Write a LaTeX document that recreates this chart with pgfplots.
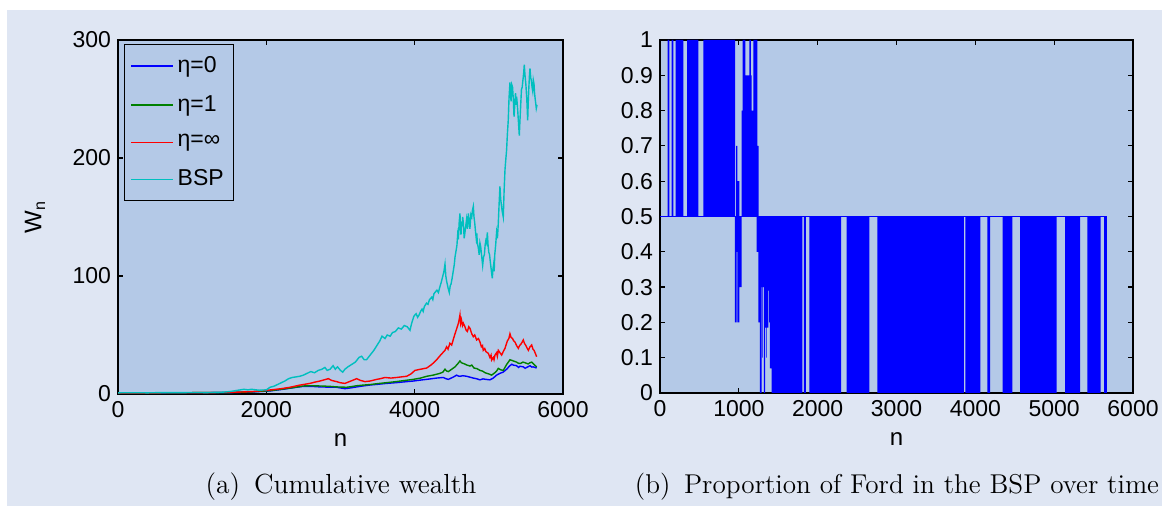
\documentclass[border=0pt]{standalone}
\usepackage{pgfplots}
\pgfplotsset{compat=1.18}
\usepackage{fontspec}
\newfontfamily\arial{Liberation Sans}
\definecolor{outerbg}{RGB}{223,230,243}
\definecolor{axisbg}{RGB}{180,201,231}
\definecolor{mgreen}{RGB}{0,128,0}
\definecolor{mcyan}{RGB}{0,191,191}
\begin{document}
\begin{tikzpicture}
\path[use as bounding box] (0pt,0pt) rectangle (581pt,254pt);
\fill[white] (0pt,0pt) rectangle (581pt,254pt);
\fill[outerbg] (3.5pt,1pt) rectangle (581pt,249pt);
\pgfplotsset{
  mystyle/.style={
    scale only axis,
    axis background/.style={fill=axisbg},
    axis line style={black, line width=0.7pt},
    tick align=inside,
    major tick length=2.5pt,
    every tick/.style={black, line width=0.6pt},
    tick label style={font=\arial\fontsize{11.5}{13}\selectfont},
    label style={font=\arial\fontsize{12}{14}\selectfont},
    /pgf/number format/assume math mode=true,
    /pgf/number format/set thousands separator={},
    xmin=0, xmax=6000,
    x label style={at={(axis description cs:0.5,0)}, anchor=center, yshift=-23pt},
  }
}
% ---------- left axis ----------
\begin{axis}[mystyle,
  at={(59pt,57pt)}, anchor=south west,
  width=222.5pt, height=177pt,
  ymin=0, ymax=300, ytick={0,100,200,300},
  xtick={0,2000,4000,6000},
  xlabel={n},
  ylabel={W\textsubscript{n}},
  y label style={at={(axis description cs:-0.1865,0.5)}, anchor=center},
  legend style={at={(0.0135,0.989)}, anchor=north west, fill=axisbg, draw=black, line width=0.6pt,
    font=\arial\fontsize{11.5}{13}\selectfont, row sep=6pt, inner xsep=3pt, inner ysep=4pt},
  legend cell align=left,
  legend image code/.code={\draw[#1, line width=0.55pt] (0pt,0pt) -- (21pt,0pt);},
]
\addplot[blue, line width=0.7pt] coordinates {
(0,1) (500,1) (1000,1.05) (1500,1.15) (1800,1.7) (2049,2.6) (2200,3.8) (2350,5.2) (2500,6.5) (2600,6.5) (2724,6) (2850,5.8) (2948,5.7) (3060,4.5) (3140,5.2) (3218,6) (3300,6.8) (3398,7.6) (3500,8.2) (3623,9) (3750,9.6) (3847,10.2) (3982,11) (4080,11.8) (4162,12.4) (4296,13.5) (4386,14) (4420,13) (4454,12.4) (4510,14) (4540,15) (4566,16) (4590,15.2) (4611,15) (4650,15.5) (4701,15) (4750,14.2) (4791,13.5) (4830,13) (4881,12) (4920,12.8) (4950,12.5) (4985,12.2) (5015,12) (5060,13.5) (5105,16) (5150,17.5) (5195,18.6) (5240,21) (5285,24) (5310,25.2) (5330,24.5) (5375,24) (5400,22.5) (5420,23.5) (5465,23) (5490,21.8) (5510,22.5) (5555,24) (5580,22.8) (5600,23) (5645,22)
};
\addlegendentry{η=0}
\addplot[mgreen, line width=0.7pt] coordinates {
(0,1) (500,1) (1000,1.1) (1500,1.2) (1800,1.8) (2049,2.8) (2200,4) (2350,5.3) (2500,6.8) (2600,7) (2724,6.8) (2850,6.5) (2948,6) (3083,5.7) (3150,6.3) (3218,7) (3300,7.5) (3398,8) (3500,8.8) (3623,9.6) (3750,10.5) (3847,11.3) (3982,12.4) (4080,13.5) (4162,15) (4250,16) (4341,17.5) (4380,18.5) (4409,21) (4430,19.5) (4454,19) (4500,21) (4544,23) (4580,25.5) (4611,28) (4630,26.5) (4650,26) (4680,25.3) (4701,24.6) (4746,23.7) (4770,24.5) (4800,22) (4840,21.5) (4881,20) (4915,19.4) (4950,18) (5000,17) (5038,16) (5080,18) (5105,19.5) (5128,21.7) (5160,20.5) (5195,20) (5240,25) (5285,29) (5310,28.5) (5330,28) (5375,27) (5400,26) (5430,26) (5460,27) (5488,26.5) (5530,25.5) (5555,26.5) (5578,27) (5610,25) (5645,23)
};
\addlegendentry{η=1}
\addplot[red, line width=0.7pt] coordinates {
(0,1) (500,1) (1000,1.1) (1500,1.3) (1800,2) (2049,3.4) (2200,4.5) (2319,5.7) (2450,7.5) (2589,9) (2650,10) (2724,11) (2780,12) (2836,13) (2880,11.5) (2948,10.5) (3000,9.5) (3060,9) (3120,10.5) (3180,12) (3218,13) (3270,11.5) (3330,10.5) (3400,11) (3488,12.4) (3540,13) (3600,14) (3680,13.5) (3757,14) (3820,14.5) (3892,15) (3950,17) (4004,20) (4080,21) (4162,22) (4230,25) (4296,29) (4350,33) (4409,37) (4430,40) (4450,38) (4475,43) (4499,41.5) (4520,46) (4544,51) (4570,56) (4590,60) (4600,63) (4611,67) (4620,60) (4630,63) (4645,58) (4656,60) (4678,57) (4695,54) (4710,53) (4730,57) (4746,55.6) (4770,51) (4791,48.6) (4810,50) (4836,45.8) (4860,47) (4881,44) (4900,40) (4915,41) (4925,37) (4945,38.5) (4960,36) (4980,35) (4993,34.5) (5015,31) (5030,33) (5038,28.8) (5060,31) (5070,29) (5083,33) (5105,35) (5115,32) (5128,37) (5150,35) (5173,33) (5195,36) (5218,38.7) (5250,45) (5270,47) (5285,51) (5300,48) (5320,47) (5335,45) (5353,44) (5375,41) (5398,38.7) (5415,41) (5430,42) (5450,44) (5465,45.8) (5480,43) (5500,41) (5515,39) (5533,37) (5555,40) (5578,41.5) (5595,38) (5610,37) (5630,34) (5645,31.6)
};
\addlegendentry{η=∞}
\addplot[mcyan, line width=0.7pt] coordinates {
(0,1) (200,1.1) (400,1.0) (600,1.2) (800,1.1) (1000,1.3) (1200,1.2) (1400,1.5) (1500,2) (1600,3) (1700,4) (1750,3.5) (1800,4) (1900,3.2) (2000,3.5) (2050,5.7) (2100,6.5) (2150,8) (2200,9.5) (2250,11) (2300,13) (2350,14) (2400,14.5) (2450,15) (2500,16) (2550,17.5) (2600,19) (2650,18) (2700,20) (2750,21) (2790,22.5) (2820,20) (2860,21) (2900,24) (2930,21) (2960,23) (3000,20) (3030,18.5) (3060,21) (3100,23) (3150,25) (3200,27) (3250,31) (3285,32) (3320,29) (3350,29) (3400,33) (3450,37) (3490,41) (3530,45) (3560,49) (3600,47) (3630,50) (3670,49) (3700,52) (3740,53) (3780,56) (3820,55) (3860,58) (3900,57) (3937,54) (3960,60) (3990,66) (4020,68) (4040,65) (4060,67) (4080,70) (4100,72) (4115,70) (4130,74) (4160,77) (4180,76) (4200,80) (4230,82) (4245,80) (4260,85) (4300,88) (4320,86) (4341,91) (4360,95) (4380,100) (4395,104) (4409,110) (4420,100) (4430,96) (4450,90) (4467,86) (4480,92) (4490,93) (4505,98) (4520,104) (4535,110) (4544,116) (4560,122) (4570,126) (4580,135) (4589,131) (4600,145) (4611,153) (4618,140) (4625,135) (4632,146) (4640,142) (4648,150) (4656,145) (4668,132) (4680,138) (4690,143) (4700,148) (4712,140) (4724,153) (4735,146) (4745,140) (4758,152) (4770,150) (4780,156) (4791,159) (4800,150) (4810,145) (4820,138) (4830,132) (4838,136) (4845,128) (4858,124) (4870,118) (4880,128) (4890,125) (4905,116) (4917,109) (4928,116) (4940,118) (4950,126) (4960,130) (4970,128) (4980,137) (4990,126) (5000,120) (5010,118) (5020,112) (5035,104) (5047,98) (5056,106) (5065,110) (5072,104) (5080,118) (5092,126) (5105,137) (5116,132) (5128,145) (5138,160) (5150,176) (5160,165) (5170,160) (5180,155) (5195,150) (5206,172) (5218,190) (5228,198) (5240,207) (5250,220) (5262,232) (5272,250) (5285,264) (5292,255) (5300,248) (5310,262) (5320,260) (5330,250) (5340,235) (5350,245) (5360,255) (5368,245) (5375,252) (5383,246) (5390,240) (5400,230) (5411,219) (5420,232) (5430,245) (5440,258) (5450,260) (5460,266) (5470,272) (5478,279) (5488,270) (5500,262) (5512,250) (5524,232) (5532,248) (5540,260) (5548,270) (5555,276) (5565,268) (5575,265) (5583,260) (5591,257) (5600,266) (5609,263) (5617,255) (5625,250) (5633,246) (5640,242) (5650,245)
};
\addlegendentry{BSP}
\end{axis}
% ---------- right axis ----------
\begin{axis}[mystyle,
  at={(330pt,57.5pt)}, anchor=south west,
  width=236.5pt, height=176.5pt,
  ymin=0, ymax=1, ytick={0,0.1,...,1},
  xtick={0,1000,2000,3000,4000,5000,6000},
  xlabel={n},
  unbounded coords=jump,
]
\addplot[fill=blue, draw=none] table[row sep=\\] {
x y \\
97 0.5 \\ 97 1 \\ 118 1 \\ 118 0.5 \\ nan nan \\
148 0.5 \\ 148 1 \\ 169 1 \\ 169 0.5 \\ nan nan \\
199 0.5 \\ 199 1 \\ 296 1 \\ 296 0.5 \\ nan nan \\
343 0.5 \\ 343 1 \\ 486 1 \\ 486 0.5 \\ nan nan \\
550 0.5 \\ 550 1 \\ 952 1 \\ 952 0.5 \\ nan nan \\
964 0.5 \\ 964 0.7 \\ 981 0.7 \\ 981 0.5 \\ nan nan \\
981 0.5 \\ 981 0.6 \\ 1006 0.6 \\ 1006 0.5 \\ nan nan \\
1036 0.5 \\ 1036 0.8 \\ 1049 0.8 \\ 1049 0.5 \\ nan nan \\
1049 0.5 \\ 1049 1 \\ 1082 1 \\ 1082 0.5 \\ nan nan \\
1086 0.5 \\ 1086 0.9 \\ 1133 0.9 \\ 1133 0.5 \\ nan nan \\
1133 0.5 \\ 1133 1 \\ 1154 1 \\ 1154 0.5 \\ nan nan \\
1154 0.5 \\ 1154 0.9 \\ 1163 0.9 \\ 1163 0.5 \\ nan nan \\
1163 0.5 \\ 1163 0.8 \\ 1184 0.8 \\ 1184 0.5 \\ nan nan \\
1184 0.5 \\ 1184 1 \\ 1234 1 \\ 1234 0.5 \\ nan nan \\
1234 0.5 \\ 1234 0.7 \\ 1252 0.7 \\ 1252 0.5 \\ nan nan \\
951 0.5 \\ 951 0.2 \\ 973 0.2 \\ 973 0.5 \\ nan nan \\
973 0.5 \\ 973 0.4 \\ 981 0.4 \\ 981 0.5 \\ nan nan \\
981 0.5 \\ 981 0.2 \\ 1006 0.2 \\ 1006 0.5 \\ nan nan \\
1006 0.5 \\ 1006 0.3 \\ 1036 0.3 \\ 1036 0.5 \\ nan nan \\
1226 0.5 \\ 1226 0.4 \\ 1247 0.4 \\ 1247 0.5 \\ nan nan \\
1247 0.5 \\ 1247 0.2 \\ 1268 0.2 \\ 1268 0.5 \\ nan nan \\
1268 0.5 \\ 1268 0 \\ 1290 0 \\ 1290 0.5 \\ nan nan \\
1290 0.5 \\ 1290 0.3 \\ 1319 0.3 \\ 1319 0.5 \\ nan nan \\
1300 0.5 \\ 1300 0.1 \\ 1306 0.1 \\ 1306 0.5 \\ nan nan \\
1319 0.5 \\ 1319 0 \\ 1332 0 \\ 1332 0.5 \\ nan nan \\
1332 0.5 \\ 1332 0.185 \\ 1374 0.185 \\ 1374 0.5 \\ nan nan \\
1345 0.5 \\ 1345 0.1 \\ 1352 0.1 \\ 1352 0.5 \\ nan nan \\
1374 0.5 \\ 1374 0.29 \\ 1395 0.29 \\ 1395 0.5 \\ nan nan \\
1385 0.5 \\ 1385 0.2 \\ 1392 0.2 \\ 1392 0.5 \\ nan nan \\
1395 0.5 \\ 1395 0.07 \\ 1416 0.07 \\ 1416 0.5 \\ nan nan \\
1416 0.5 \\ 1416 0 \\ 1805 0 \\ 1805 0.5 \\ nan nan \\
1826 0.5 \\ 1826 0 \\ 1851 0 \\ 1851 0.5 \\ nan nan \\
1894 0.5 \\ 1894 0 \\ 2296 0 \\ 2296 0.5 \\ nan nan \\
2368 0.5 \\ 2368 0 \\ 2655 0 \\ 2655 0.5 \\ nan nan \\
2757 0.5 \\ 2757 0 \\ 3856 0 \\ 3856 0.5 \\ nan nan \\
3873 0.5 \\ 3873 0 \\ 4065 0 \\ 4065 0.5 \\ nan nan \\
4152 0.5 \\ 4152 0 \\ 4186 0 \\ 4186 0.5 \\ nan nan \\
4347 0.5 \\ 4347 0 \\ 4469 0 \\ 4469 0.5 \\ nan nan \\
4567 0.5 \\ 4567 0 \\ 5032 0 \\ 5032 0.5 \\ nan nan \\
5138 0.5 \\ 5138 0 \\ 5328 0 \\ 5328 0.5 \\ nan nan \\
5421 0.5 \\ 5421 0 \\ 5590 0 \\ 5590 0.5 \\ nan nan \\
5633 0.5 \\ 5633 0 \\ 5667 0 \\ 5667 0.5 \\
};
\addplot[blue, line width=0.8pt] coordinates {(0,0.5) (5667,0.5)};
\end{axis}
\node[font=\fontsize{13.8}{16}\selectfont] at (170.5pt,10.5pt) {(a)\enspace Cumulative wealth};
\node[font=\fontsize{13.6}{16}\selectfont] at (448.5pt,10.5pt) {(b)\enspace Proportion of Ford in the BSP over time};
\end{tikzpicture}
\end{document}
